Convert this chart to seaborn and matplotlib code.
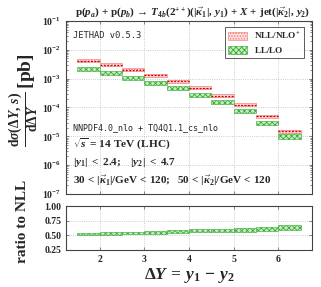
import matplotlib
matplotlib.use("Agg")
import matplotlib.pyplot as plt
import numpy as np
import pandas as pd
import seaborn as sns
from matplotlib.patches import Patch

sns.set_style("ticks")
plt.rcParams["font.family"] = ["Liberation Serif", "DejaVu Serif"]
plt.rcParams["mathtext.fontset"] = "custom"
plt.rcParams["mathtext.rm"] = "Liberation Serif:bold"
plt.rcParams["mathtext.bf"] = "Liberation Serif:bold"
plt.rcParams["mathtext.it"] = "Liberation Serif:italic:bold"
plt.rcParams["mathtext.cal"] = "Liberation Serif:italic:bold"
plt.rcParams["mathtext.sf"] = "Liberation Serif:bold"
plt.rcParams["hatch.linewidth"] = 0.6

# bins in Delta Y
bin_lo = [1.5, 2.0, 2.5, 3.0, 3.5, 4.0, 4.5, 5.0, 5.5, 6.0]
bin_hi = [2.0, 2.5, 3.0, 3.5, 4.0, 4.5, 5.0, 5.5, 6.0, 6.5]

# cross sections [pb]
nll_c = [4.2e-3, 3.0e-3, 2.0e-3, 1.3e-3, 8.1e-4, 4.9e-4, 2.6e-4, 1.26e-4, 5.0e-5, 1.5e-5]
nll_lo = [3.7e-3, 2.65e-3, 1.78e-3, 1.15e-3, 7.2e-4, 4.35e-4, 2.3e-4, 1.12e-4, 4.4e-5, 1.33e-5]
nll_hi = [4.7e-3, 3.4e-3, 2.25e-3, 1.47e-3, 9.1e-4, 5.5e-4, 2.95e-4, 1.42e-4, 5.6e-5, 1.7e-5]
ll_lo = [1.8e-3, 1.38e-3, 9.2e-4, 6.2e-4, 4.0e-4, 2.4e-4, 1.36e-4, 6.3e-5, 2.45e-5, 8.2e-6]
ll_hi = [2.45e-3, 1.85e-3, 1.25e-3, 8.4e-4, 5.5e-4, 3.3e-4, 1.88e-4, 8.7e-5, 3.4e-5, 1.18e-5]

# LL / NLL ratio band
ratio_lo = [0.50, 0.51, 0.52, 0.53, 0.54, 0.55, 0.555, 0.565, 0.57, 0.585]
ratio_hi = [0.535, 0.55, 0.565, 0.575, 0.585, 0.60, 0.61, 0.625, 0.64, 0.685]

df = pd.DataFrame({"lo": bin_lo, "hi": bin_hi, "nll_c": nll_c, "nll_lo": nll_lo,
                   "nll_hi": nll_hi, "ll_lo": ll_lo, "ll_hi": ll_hi,
                   "r_lo": ratio_lo, "r_hi": ratio_hi})
df["mid"] = (df["lo"] + df["hi"]) / 2
df["w"] = df["hi"] - df["lo"]

red_fc = "#ffdede"
red_ec = "#f07070"
green_fc = "#c8ecc0"
green_ec = "#33aa33"

fig = plt.figure(figsize=(3.21, 2.87), dpi=100)
ax = fig.add_axes([0.2056, 0.324, 0.766, 0.603])
axr = fig.add_axes([0.2056, 0.129, 0.766, 0.153])

# main panel bands
ax.bar(df["mid"], df["nll_hi"] - df["nll_lo"], bottom=df["nll_lo"], width=df["w"],
       facecolor=red_fc, edgecolor=red_ec, hatch="......", linewidth=0.4, zorder=3)
ax.hlines(df["nll_c"], df["lo"], df["hi"], colors="#cc0000", linestyles=(0, (1.5, 1.2)),
          linewidth=0.9, zorder=4)
ax.bar(df["mid"], df["ll_hi"] - df["ll_lo"], bottom=df["ll_lo"], width=df["w"],
       facecolor=green_fc, edgecolor=green_ec, hatch="xxxxxx", linewidth=0.4, zorder=3)

ax.set_yscale("log")
ax.set_ylim(1e-7, 1e-1)
ax.set_xlim(1.25, 6.75)
ax.set_xticks([2, 3, 4, 5, 6])
ax.set_xticklabels([])
ax.set_yticks([1e-7, 1e-6, 1e-5, 1e-4, 1e-3, 1e-2, 1e-1])

# ratio panel
axr.bar(df["mid"], df["r_hi"] - df["r_lo"], bottom=df["r_lo"], width=df["w"],
        facecolor=green_fc, edgecolor=green_ec, hatch="xxxxxx", linewidth=0.4, zorder=3)
axr.set_xlim(1.25, 6.75)
axr.set_ylim(0.25, 1.0)
axr.set_xticks([2, 3, 4, 5, 6])
axr.set_yticks([0.25, 0.5, 0.75, 1.0])
axr.set_yticklabels(["0.25", "0.50", "0.75", "1.00"])

for a in (ax, axr):
    a.grid(True, which="major", linestyle=":", color="#bbbbbb", linewidth=0.6, zorder=0)
    a.tick_params(which="both", direction="in", top=True, right=True, labelsize=7,
                  length=2.5, width=0.5, color="#555555")
    a.tick_params(which="minor", length=1.5)
    for s in a.spines.values():
        s.set_linewidth(0.8)
        s.set_color("#444444")
    for lab in a.get_xticklabels() + a.get_yticklabels():
        lab.set_fontweight("bold")

# texts
fig.text(0.60, 0.955, r"$\mathrm{p}(p_a)\,+\,\mathrm{p}(p_b)\,\rightarrow\,T_{4b}(2^{++})(|\vec{\kappa}_1|,\, y_1)\,+\,\mathcal{X}\,+\,\mathrm{jet}(|\vec{\kappa}_2|,\, y_2)$",
         ha="center", va="center", fontsize=7.9)
ax.text(0.03, 0.94, "JETHAD v0.5.3", transform=ax.transAxes, family="DejaVu Sans Mono",
        fontsize=6.3, va="top", ha="left")
ax.text(0.03, 0.385, "NNPDF4.0_nlo + TQ4Q1.1_cs_nlo", transform=ax.transAxes,
        family="DejaVu Sans Mono", fontsize=6.0, va="center", ha="left")
ax.text(0.03, 0.285, r"$\sqrt{s}$ = 14 TeV (LHC)", transform=ax.transAxes,
        fontsize=8.2, fontweight="bold", va="center", ha="left")
ax.text(0.03, 0.18, r"$|y_1|\ <\ 2.4;\ \ \ |y_2|\ <\ 4.7$", transform=ax.transAxes,
        fontsize=8, va="center", ha="left")
ax.text(0.03, 0.075, r"$30\,<\,|\vec{\kappa}_1|/\mathrm{GeV}\,<\,120;\ \ 50\,<\,|\vec{\kappa}_2|/\mathrm{GeV}\,<\,120$",
        transform=ax.transAxes, fontsize=8, va="center", ha="left")

handles = [Patch(facecolor=red_fc, edgecolor=red_ec, hatch="......", linewidth=0.4),
           Patch(facecolor=green_fc, edgecolor=green_ec, hatch="xxxxxx", linewidth=0.4)]
leg = ax.legend(handles, [r"$\mathrm{NLL/NLO}^{+}$", r"$\mathrm{LL/LO}$"], loc="upper right",
                fontsize=6.6, frameon=True, fancybox=False, handlelength=2.0,
                handleheight=0.9, borderpad=0.35, labelspacing=0.35,
                bbox_to_anchor=(0.985, 0.99))
leg.get_frame().set_edgecolor("#333333")
leg.get_frame().set_linewidth(0.7)

fig.text(0.075, 0.65, r"$\frac{\mathrm{d}\sigma(\Delta Y,\, s)}{\mathrm{d}\Delta Y}\,[\mathrm{pb}]$",
         rotation=90, ha="center", va="center", fontsize=14)
fig.text(0.07, 0.227, "ratio to NLL", rotation=90, ha="center", va="center",
         fontsize=11, fontweight="bold")
fig.text(0.59, 0.04, r"$\Delta Y\,=\,y_1\,-\,y_2$", ha="center", va="center", fontsize=12.5)

fig.savefig("out.png", dpi=100)
